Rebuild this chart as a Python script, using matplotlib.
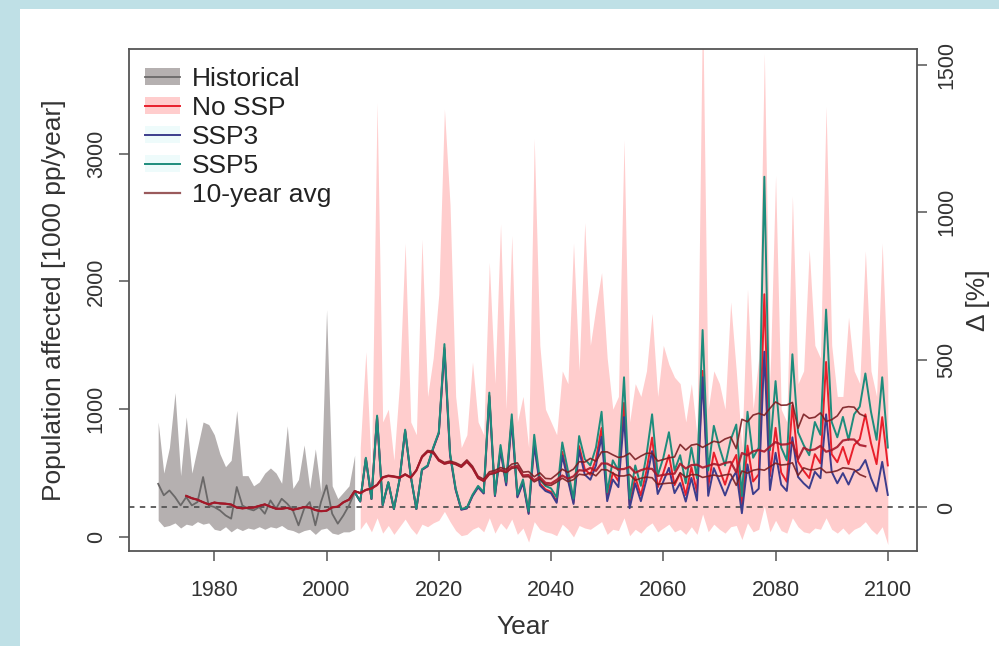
import numpy as np
import pandas as pd
import matplotlib
matplotlib.use("Agg")
import matplotlib.pyplot as plt
from matplotlib.patches import Patch, Rectangle
from matplotlib.lines import Line2D

plt.rcParams['font.family'] = ['Liberation Sans', 'DejaVu Sans']

# ---------------- data ----------------
years_hist = list(range(1970, 2006))
hist_median = [416, 326, 364, 312, 247, 312, 247, 273, 469, 247,
               234, 208, 169, 143, 391, 247, 221, 208, 234, 182,
               286, 221, 299, 260, 208, 91, 221, 273, 91, 273,
               404, 182, 104, 169, 247, 351]
hist_upper = [900, 500, 700, 1130, 480, 940, 500, 700, 900, 880,
              800, 650, 550, 600, 990, 480, 480, 400, 430, 500,
              540, 500, 420, 870, 380, 450, 720, 380, 690, 350,
              1780, 400, 300, 350, 400, 640]
hist_lower = [130, 80, 90, 110, 70, 100, 90, 120, 100, 110,
              60, 50, 80, 40, 70, 50, 70, 60, 80, 60,
              80, 70, 90, 60, 50, 30, 50, 60, 20, 60,
              70, 30, 20, 40, 40, 60]

years_fut = list(range(2006, 2101))
ssp5 = [280, 620, 300, 950, 250, 430, 220, 450, 840, 480,
        220, 530, 560, 700, 820, 1510, 660, 380, 220, 230,
        330, 400, 350, 1130, 330, 720, 430, 960, 330, 450,
        200, 800, 450, 400, 380, 310, 740, 520, 300, 790,
        610, 560, 700, 980, 350, 600, 520, 1250, 300, 560,
        400, 640, 960, 480, 620, 820, 520, 640, 420, 700,
        460, 1620, 520, 870, 700, 560, 760, 880, 320, 980,
        620, 700, 2820, 680, 1220, 700, 600, 1430, 820, 720,
        640, 900, 800, 1780, 900, 780, 940, 760, 960, 1020,
        1280, 980, 760, 1250, 700]
no_ssp = [277, 614, 297, 940, 248, 426, 218, 446, 832, 475,
          218, 525, 554, 693, 812, 1480, 647, 372, 216, 225,
          323, 392, 343, 1107, 323, 691, 413, 922, 317, 432,
          186, 744, 419, 372, 353, 279, 666, 468, 270, 711,
          531, 487, 609, 853, 305, 504, 437, 1050, 252, 470,
          324, 518, 778, 389, 502, 640, 406, 499, 328, 546,
          350, 1300, 395, 661, 532, 409, 555, 642, 234, 715,
          434, 490, 1900, 476, 854, 504, 432, 1030, 590, 518,
          461, 648, 576, 1370, 648, 585, 705, 570, 720, 765,
          960, 735, 570, 938, 560]
ssp3 = [277, 614, 297, 940, 248, 426, 218, 446, 832, 475,
        218, 525, 554, 693, 812, 1465, 640, 369, 213, 223,
        320, 388, 340, 1096, 320, 677, 404, 902, 310, 423,
        180, 720, 405, 360, 342, 267, 636, 447, 258, 679,
        488, 448, 560, 784, 280, 450, 390, 938, 225, 420,
        280, 448, 672, 336, 434, 541, 343, 422, 277, 462,
        285, 1250, 322, 539, 434, 325, 441, 510, 186, 568,
        335, 378, 1450, 367, 659, 410, 360, 780, 470, 420,
        380, 510, 460, 960, 510, 420, 500, 410, 510, 530,
        602, 461, 357, 588, 329]
nossp_upper = [700, 1450, 500, 3400, 900, 1000, 600, 1200, 2300, 900,
               800, 2330, 1100, 1400, 1900, 3350, 2600, 1100, 700, 800,
               1370, 900, 800, 2150, 1200, 2450, 1000, 2360, 900, 1100,
               700, 3120, 1500, 1000, 900, 800, 1300, 1200, 2300, 1300,
               2460, 1500, 1800, 2070, 1400, 1000, 1100, 3110, 900, 1200,
               1100, 1300, 1750, 1100, 1500, 1350, 1250, 1200, 900, 1200,
               800, 4200, 1000, 1300, 1200, 1000, 1840, 1300, 700, 1940,
               1000, 1400, 3790, 1200, 2830, 1000, 900, 2670, 1200, 1300,
               2250, 1500, 1400, 3370, 1500, 1100, 1100, 1720, 1300, 1200,
               2240, 1300, 1100, 2300, 1200]
nossp_lower = [60, 120, 40, 150, 30, 90, 20, 80, 140, 70,
               20, 100, 80, 110, 130, 200, 120, 50, 10, 20,
               60, 80, 40, 150, 30, 110, 60, 140, 20, 70,
               -40, 120, 60, 40, 30, 10, 100, 60, 0, 90,
               70, 60, 90, 120, 20, 60, 50, 150, 10, 60,
               30, 80, 110, 40, 70, 100, 40, 60, 20, 80,
               20, 180, 40, 100, 60, 30, 80, 90, -20, 110,
               40, 60, 240, 40, 130, 50, 30, 150, 80, 40,
               30, 70, 60, 150, 60, 30, 70, 20, 60, 80,
               120, 60, 20, 80, -60]
baseline = 231          # reference level (0 % on right axis)
avg_window = 10

x_ticks = [1980, 2000, 2020, 2040, 2060, 2080, 2100]
y_ticks = [0, 1000, 2000, 3000]
pct_ticks = [0, 500, 1000, 1500]

# ---------------- figure ----------------
W, H = 999, 646
fig = plt.figure(figsize=(W / 100, H / 100), dpi=100)
fig.patch.set_facecolor('#bfe0e6')
fig.add_artist(Rectangle((20 / W, 0), 1, (H - 9) / H, transform=fig.transFigure,
                         facecolor='white', edgecolor='none', zorder=0))

ax = fig.add_axes([129 / W, 1 - 551 / H, (917 - 129) / W, (551 - 49) / H])
ax.set_facecolor('white')

c_hist_band = '#b5b0b0'
c_hist_line = '#6a6868'
c_pink = '#ffcdcd'
c_red = '#e8202c'
c_navy = '#3d3d8c'
c_teal = '#1e8c7c'
c_avg = '#7a1e22'

ax.fill_between(years_hist, hist_lower, hist_upper, color=c_hist_band, lw=0, zorder=1)
ax.fill_between(years_fut, nossp_lower, nossp_upper, color=c_pink, lw=0, zorder=1)
ax.axhline(baseline, color='#555555', ls=(0, (3, 3)), lw=1.3, zorder=2)

ax.plot(years_hist, hist_median, color=c_hist_line, lw=1.3, zorder=3)
yf = [years_hist[-1]] + years_fut
ax.plot(yf, [hist_median[-1]] + no_ssp, color=c_red, lw=1.4, zorder=3)
ax.plot(yf, [hist_median[-1]] + ssp3, color=c_navy, lw=1.4, zorder=4)
ax.plot(yf, [hist_median[-1]] + ssp5, color=c_teal, lw=1.4, zorder=5)

all_years = years_hist + years_fut
for series, col, lw in [(ssp3, c_avg, 1.2), (ssp5, c_avg, 1.2), (no_ssp, '#a8182a', 1.6)]:
    full = pd.Series(hist_median + series, dtype=float)
    avg = full.rolling(avg_window, center=True).mean()
    ax.plot(all_years, avg, color=col, lw=lw, alpha=0.9, zorder=6)

x_lo, x_hi = 1964.8, 2105.2
y_lo, y_hi = -110, 3820
ax.set_xlim(x_lo, x_hi)
ax.set_ylim(y_lo, y_hi)
ax.set_xticks(x_ticks)
ax.set_yticks(y_ticks)

for s in ax.spines.values():
    s.set_color('#555555')
    s.set_linewidth(1.3)

tick_col = '#333333'
ax.tick_params(axis='both', direction='out', length=7, width=1.1, color='#555555',
               labelsize=15.5, labelcolor=tick_col)
ax.tick_params(axis='x', pad=14)
ax.tick_params(axis='y', pad=9, labelrotation=90)
for lab in ax.get_yticklabels():
    lab.set_va('center')

ax.set_xlabel('Year', fontsize=19, color=tick_col)
ax.xaxis.set_label_coords(0.5, (551 - 627) / (551 - 49))
ax.xaxis.label.set_va('center')
ax.set_ylabel('Population affected [1000 pp/year]', fontsize=19, color=tick_col)
ax.yaxis.set_label_coords((54 - 129) / (917 - 129), 0.5)
ax.yaxis.label.set_va('center')

ax2 = ax.twinx()
ax2.set_ylim((y_lo / baseline - 1) * 100, (y_hi / baseline - 1) * 100)
ax2.set_yticks(pct_ticks)
ax2.tick_params(axis='y', direction='out', length=7, width=1.1, color='#555555',
                labelsize=15.5, labelcolor=tick_col, pad=7, labelrotation=90)
for lab in ax2.get_yticklabels():
    lab.set_va('center')
for s in ax2.spines.values():
    s.set_visible(False)
ax2.set_ylabel('Δ [%]', fontsize=19, color=tick_col, rotation=90)
ax2.yaxis.set_label_coords((978 - 129) / (917 - 129), 0.5)
ax2.yaxis.label.set_va('center')

handles = [
    (Patch(facecolor=c_hist_band, edgecolor='none'), Line2D([], [], color=c_hist_line, lw=1.3)),
    (Patch(facecolor=c_pink, edgecolor='none'), Line2D([], [], color=c_red, lw=1.4)),
    (Patch(facecolor='#eefbfb', edgecolor='none'), Line2D([], [], color=c_navy, lw=1.4)),
    (Patch(facecolor='#eefbfb', edgecolor='none'), Line2D([], [], color=c_teal, lw=1.4)),
    Line2D([], [], color='#9a5a5c', lw=1.6),
]
labels = ['Historical', 'No SSP', 'SSP3', 'SSP5', '10-year avg']
leg = ax.legend(handles, labels, loc='upper left', bbox_to_anchor=(0.0, 0.996),
                frameon=False, fontsize=19, handlelength=1.35, handleheight=0.6,
                labelspacing=0.19, handletextpad=0.45, borderaxespad=0.2)
for t in leg.get_texts():
    t.set_color('#222222')

fig.savefig('out.png', dpi=100, facecolor=fig.get_facecolor())
